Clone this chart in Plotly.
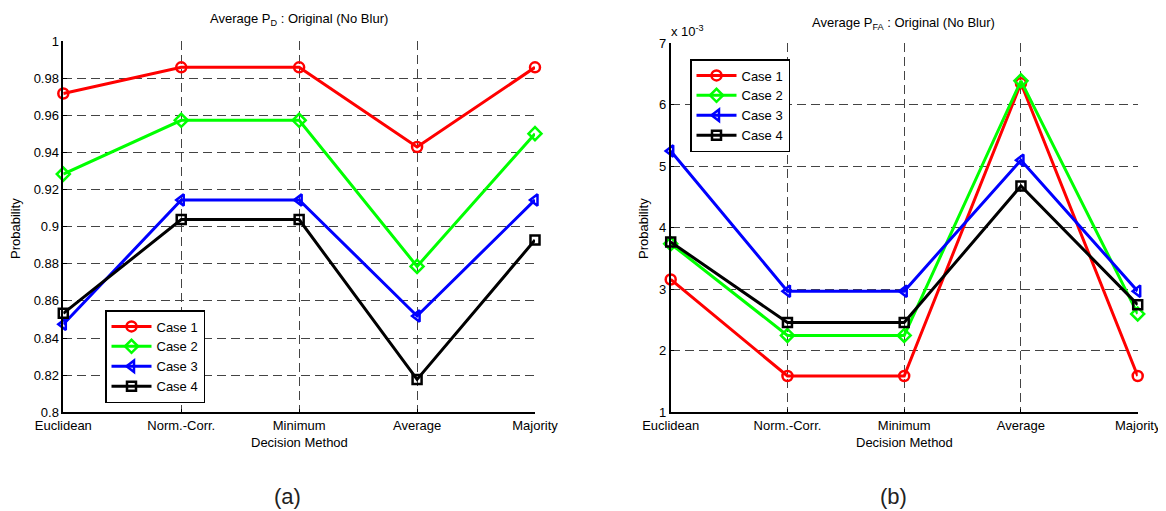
import plotly.graph_objects as go

methods = ["Euclidean", "Norm.-Corr.", "Minimum", "Average", "Majority"]
cases = ["Case 1", "Case 2", "Case 3", "Case 4"]

# (a) Average P_D
pd_case1 = [0.9717, 0.9858, 0.9858, 0.9429, 0.9858]
pd_case2 = [0.9283, 0.9573, 0.9573, 0.8786, 0.9501]
pd_case3 = [0.8474, 0.9144, 0.9144, 0.8519, 0.9144]
pd_case4 = [0.8533, 0.9038, 0.9038, 0.8177, 0.8928]

# (b) Average P_FA (x 1e-3)
pfa_case1 = [3.16e-3, 1.59e-3, 1.59e-3, 6.35e-3, 1.59e-3]
pfa_case2 = [3.74e-3, 2.25e-3, 2.25e-3, 6.39e-3, 2.60e-3]
pfa_case3 = [5.25e-3, 2.97e-3, 2.97e-3, 5.10e-3, 2.97e-3]
pfa_case4 = [3.77e-3, 2.46e-3, 2.46e-3, 4.68e-3, 2.75e-3]

pd_ticks = [0.8, 0.82, 0.84, 0.86, 0.88, 0.9, 0.92, 0.94, 0.96, 0.98, 1.0]
pd_ticktext = ["0.8", "0.82", "0.84", "0.86", "0.88", "0.9", "0.92", "0.94", "0.96", "0.98", "1"]
pfa_ticks = [1e-3, 2e-3, 3e-3, 4e-3, 5e-3, 6e-3, 7e-3]
pfa_ticktext = ["1", "2", "3", "4", "5", "6", "7"]

colors = ["#ff0000", "#00ff00", "#0000ff", "#000000"]
symbols = ["circle-open", "diamond-open", "triangle-left-open", "square-open"]
sizes = [10, 10, 10, 9]

# the page body has an 8px default margin; the figure starts at (8, 8) in the window
OFF = 8
W, H = 1166 - OFF, 511 - OFF
FONT = "Liberation Sans, Arial, Helvetica, sans-serif"
NARROW = "Liberation Sans Narrow, Arial Narrow, Liberation Sans, sans-serif"

def px(x):
    return (x - OFF) / W

def py(y):
    return (H - (y - OFF)) / H

fig = go.Figure()
xs = list(range(len(methods)))

for i, (name, vals) in enumerate(zip(cases, [pd_case1, pd_case2, pd_case3, pd_case4])):
    fig.add_trace(go.Scatter(
        x=xs, y=vals, name=name, mode="lines+markers",
        line=dict(color=colors[i], width=3),
        marker=dict(symbol=symbols[i], size=sizes[i], color=colors[i],
                    line=dict(width=2.5, color=colors[i])),
        xaxis="x", yaxis="y", legend="legend", cliponaxis=False))

for i, (name, vals) in enumerate(zip(cases, [pfa_case1, pfa_case2, pfa_case3, pfa_case4])):
    fig.add_trace(go.Scatter(
        x=xs, y=vals, name=name, mode="lines+markers",
        line=dict(color=colors[i], width=3),
        marker=dict(symbol=symbols[i], size=sizes[i], color=colors[i],
                    line=dict(width=2.5, color=colors[i])),
        xaxis="x2", yaxis="y2", legend="legend2", cliponaxis=False))

axis_common = dict(
    showgrid=True, gridcolor="#444444", griddash="9px,5px", gridwidth=1,
    showline=True, linecolor="black", linewidth=1.5, mirror=False,
    ticks="inside", ticklen=4, tickcolor="black",
    tickfont=dict(family=FONT, size=13, color="black"),
    zeroline=False, automargin=False,
)

left_x0, left_x1 = 63.3, 535
right_x0, right_x1 = 670.7, 1137.7
y_bottom = 412.3

fig.update_layout(
    template="none",
    width=W, height=H,
    margin=dict(l=0, r=0, t=0, b=0, autoexpand=False),
    paper_bgcolor="white", plot_bgcolor="white",
    font=dict(family=FONT, size=13, color="black"),
    xaxis=dict(axis_common, domain=[px(left_x0), px(left_x1)], range=[0, 4],
               tickvals=xs, ticktext=methods, anchor="y"),
    yaxis=dict(axis_common, domain=[py(y_bottom), py(41)], range=[0.8, 1.0],
               tickvals=pd_ticks, ticktext=pd_ticktext, anchor="x"),
    xaxis2=dict(axis_common, domain=[px(right_x0), px(right_x1)], range=[0, 4],
                tickvals=xs, ticktext=methods, anchor="y2"),
    yaxis2=dict(axis_common, domain=[py(y_bottom), py(43.3)], range=[1e-3, 7e-3],
                tickvals=pfa_ticks, ticktext=pfa_ticktext, anchor="x2"),
    legend=dict(x=px(105), y=py(310), xanchor="left", yanchor="top",
                bgcolor="white", bordercolor="black", borderwidth=1.5,
                font=dict(family=FONT, size=13, color="black"),
                tracegroupgap=0, itemwidth=40),
    legend2=dict(x=px(690), y=py(59), xanchor="left", yanchor="top",
                 bgcolor="white", bordercolor="black", borderwidth=1.5,
                 font=dict(family=FONT, size=13, color="black"),
                 tracegroupgap=0, itemwidth=40),
)

ann = []
ann.append(dict(text="Average P<sub>D</sub> : Original (No Blur)", x=px(299), y=py(20),
                xref="paper", yref="paper", showarrow=False, xanchor="center", yanchor="middle",
                font=dict(family=FONT, size=13)))
ann.append(dict(text="Average P<sub>FA</sub> : Original (No Blur)", x=px(903), y=py(24),
                xref="paper", yref="paper", showarrow=False, xanchor="center", yanchor="middle",
                font=dict(family=FONT, size=13)))
ann.append(dict(text="x 10<sup>-3</sup>", x=px(669), y=py(31),
                xref="paper", yref="paper", showarrow=False, xanchor="left", yanchor="middle",
                font=dict(family=FONT, size=13)))
for cx in [(left_x0 + left_x1) / 2, (right_x0 + right_x1) / 2]:
    ann.append(dict(text="Decision Method", x=px(cx), y=py(442), xref="paper", yref="paper",
                    showarrow=False, xanchor="center", yanchor="middle",
                    font=dict(family=FONT, size=13)))
for cx in [16, 644]:
    ann.append(dict(text="Probability", x=px(cx), y=py(229), xref="paper", yref="paper",
                    showarrow=False, xanchor="center", yanchor="middle", textangle=-90,
                    font=dict(family=FONT, size=13)))
ann.append(dict(text="(a)", x=px(287), y=py(496), xref="paper", yref="paper", showarrow=False,
                xanchor="center", yanchor="middle",
                font=dict(family=NARROW, size=22, color="#222222")))
ann.append(dict(text="(b)", x=px(893), y=py(496), xref="paper", yref="paper", showarrow=False,
                xanchor="center", yanchor="middle",
                font=dict(family=NARROW, size=22, color="#222222")))
fig.update_layout(annotations=ann)

fig.write_html("out.html")
